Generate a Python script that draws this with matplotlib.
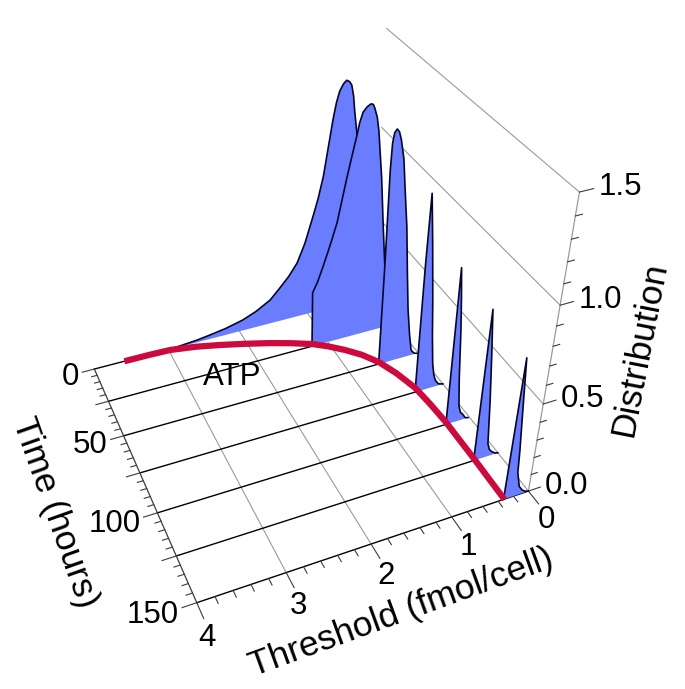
import matplotlib
matplotlib.use('Agg')
import matplotlib.pyplot as plt
import numpy as np
from mpl_toolkits.mplot3d.art3d import Poly3DCollection

plt.rcParams['font.family'] = ['Liberation Sans', 'DejaVu Sans']

# distribution curves, one per sampling time (threshold, height)
times = [0, 25, 50, 75, 100, 125, 150]
curve_T = [
    [3.21, 2.88, 2.60, 2.42, 2.20, 1.95, 1.75, 1.55, 1.41, 1.28, 1.16, 1.05, 0.94, 0.87, 0.80, 0.74, 0.68, 0.64, 0.60, 0.55, 0.51, 0.47, 0.44, 0.41, 0.39, 0.34, 0.30, 0.25, 0.18, 0.10, 0.0],
    [1.23, 1.23, 1.16, 1.09, 1.00, 0.91, 0.85, 0.79, 0.73, 0.68, 0.65, 0.61, 0.56, 0.51, 0.48, 0.46, 0.42, 0.39, 0.32, 0.26, 0.19, 0.15, 0.11, 0.0],
    [0.58, 0.57, 0.57, 0.56, 0.54, 0.51, 0.48, 0.45, 0.40, 0.36, 0.30, 0.25, 0.20, 0.15, 0.11, 0.06, 0.02],
    [0.40, 0.40, 0.39, 0.33, 0.26, 0.22, 0.18, 0.15, 0.12, 0.07, 0.0],
    [0.33, 0.34, 0.30, 0.26, 0.21, 0.17, 0.14, 0.10, 0.06, 0.02],
    [0.33, 0.33, 0.27, 0.21, 0.16, 0.13, 0.09, 0.04, 0.0],
    [0.33, 0.31, 0.26, 0.21, 0.19, 0.14, 0.09, 0.04, 0.0],
]
curve_z = [
    [0.0, 0.004, 0.014, 0.025, 0.04, 0.066, 0.10, 0.148, 0.207, 0.265, 0.334, 0.44, 0.584, 0.68, 0.80, 0.95, 1.10, 1.18, 1.235, 1.268, 1.282, 1.272, 1.253, 1.195, 1.122, 0.976, 0.70, 0.40, 0.12, 0.02, 0.0],
    [0.0, 0.33, 0.39, 0.47, 0.58, 0.70, 0.82, 0.94, 1.05, 1.14, 1.20, 1.25, 1.272, 1.283, 1.278, 1.26, 1.21, 1.14, 0.89, 0.61, 0.31, 0.11, 0.01, 0.0],
    [0.0, 0.60, 1.09, 1.22, 1.27, 1.285, 1.27, 1.23, 1.13, 0.98, 0.77, 0.52, 0.29, 0.13, 0.03, 0.005, 0.0],
    [0.0, 0.73, 1.10, 0.85, 0.53, 0.32, 0.15, 0.08, 0.04, 0.01, 0.0],
    [0.0, 0.88, 0.72, 0.54, 0.26, 0.09, 0.05, 0.03, 0.005, 0.0],
    [0.0, 0.84, 0.60, 0.34, 0.08, 0.04, 0.02, 0.005, 0.0],
    [0.0, 0.78, 0.52, 0.27, 0.14, 0.05, 0.02, 0.005, 0.0],
]

# ATP level against time
atp_T = [3.60, 3.25, 2.98, 2.65, 2.34, 2.03, 1.72, 1.46, 1.21, 1.03, 0.86, 0.70, 0.56, 0.45, 0.36, 0.33, 0.31, 0.31, 0.31, 0.32]
atp_t = [0.0, 0.1, 0.5, 3.0, 6.4, 10.3, 14.6, 18.8, 23.4, 28.3, 34.0, 40.5, 48.7, 59.5, 72.4, 85.0, 98.6, 110.0, 123.0, 150.0]
floor_end = [3.50, 1.23, 0.58, 0.40, 0.33, 0.33, 0.0]

time_ticks = [0, 50, 100, 150]
thr_ticks = [0, 1, 2, 3, 4]
z_ticks = [0.0, 0.5, 1.0, 1.5]

# camera fitted to the picture: data -> pixels
cam = np.array([[-71.5811, 0.387548, -28.6301, 373.179],
                [10.8110, 0.695735, -181.427, 296.499],
                [0.0, 0.0, 1.0, 0.0],
                [-0.0198525, -0.00122483, -0.0973601, 1.0]])

fig = plt.figure(figsize=(6.85, 6.89), dpi=100)
ax = fig.add_axes([0, 0, 1, 1], projection='3d', computed_zorder=False, proj_type='ortho')
ax.set_axis_off()
ax.get_proj = lambda: cam
ax.viewLim.intervalx = (0, 685)
ax.viewLim.intervaly = (687, 2)

GREY = '#9a9a9a'
DARK = '#3c3c3c'
BLUE = '#6b7dff'
RED = '#cc0a3e'


def label(T, t, z, s, **kw):
    # text anchored at a 3d point, placed through the camera
    p = cam @ [T, t, z, 1]
    ax.text2D(p[0] / p[3], p[1] / p[3], s, transform=ax.transData, zorder=21, **kw)


# walls and floor grid
for z in [0.5, 1.0, 1.5]:
    ax.plot([0, 0], [0, 150], [z, z], color=GREY, lw=0.8, zorder=1)
for T in [0, 1, 2, 3]:
    ax.plot([T, T], [0, 150], [0, 0], color=GREY, lw=0.8, zorder=1)
for t, end in zip(times, floor_end):
    ax.plot([4, end], [t, t], [0, 0], color='black', lw=1.0, zorder=2)

# axis lines and ticks
ax.plot([4, 4], [0, 150], [0, 0], color=DARK, lw=0.9, zorder=2)
ax.plot([0, 0], [150, 150], [0, 1.5], color=GREY, lw=0.9, zorder=2)
for i in range(31):
    t = i * 5
    d = 0.16 if i % 5 == 0 else 0.07
    ax.plot([4, 4 + d], [t, t], [0, 0], color=DARK, lw=0.8, zorder=2)
for i in range(21):
    T = i * 0.2
    d = 8 if i % 5 == 0 else 3.5
    ax.plot([T, T], [150, 150 + d], [0, 0], color=DARK, lw=0.8, zorder=2)
for i in range(16):
    z = i * 0.1
    d = 0.16 if i % 5 == 0 else 0.08
    ax.plot([0, -d], [150, 150], [z, z], color=DARK, lw=0.8, zorder=2)

# distributions, back to front
for k, t in enumerate(times):
    T = curve_T[k]
    z = curve_z[k]
    poly = Poly3DCollection([[(a, t, b) for a, b in zip(T, z)]], facecolor=BLUE,
                            edgecolor='none', zorder=3 + k * 2)
    ax.add_collection3d(poly)
    ax.plot(T, [t] * len(T), z, color='#06062a', lw=1.2, zorder=4 + k * 2)

ax.plot(atp_T, atp_t, [0] * len(atp_T), color=RED, lw=4.5, zorder=20, solid_capstyle='butt')
label(2.42, 31, 0, 'ATP', fontsize=22.5, ha='center', va='center')

for t in time_ticks:
    label(4.22, t + 3, 0, str(t), fontsize=22.5, ha='right', va='center')
for T in thr_ticks:
    label(T + 0.05, 167, 0, str(T), fontsize=22.5, ha='center', va='center')
for z in z_ticks:
    label(-0.22, 150, z, '%.1f' % z, fontsize=22.5, ha='left', va='center')

ax.text2D(55, 513, 'Time (hours)', transform=ax.transData, fontsize=25.5, rotation=-70.5,
          rotation_mode='anchor', ha='center', va='center')
ax.text2D(401, 613, 'Threshold (fmol/cell)', transform=ax.transData, fontsize=25.5, rotation=20,
          rotation_mode='anchor', ha='center', va='center')
ax.text2D(640, 349, 'Distribution', transform=ax.transData, fontsize=25.5, rotation=79,
          rotation_mode='anchor', ha='center', va='center')

fig.savefig('out.png', dpi=100)
